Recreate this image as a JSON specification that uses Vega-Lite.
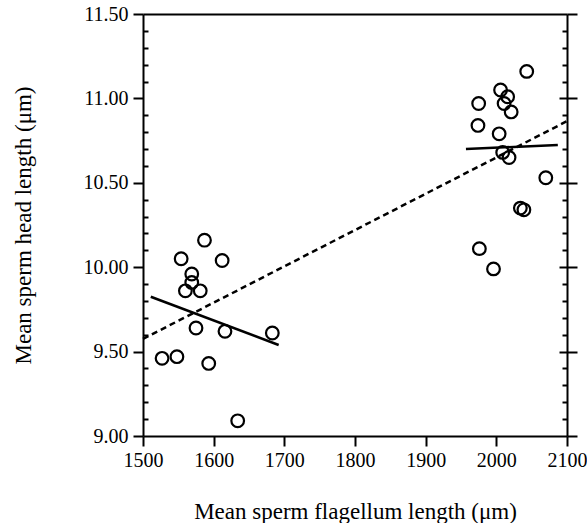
{
  "$schema": "https://vega.github.io/schema/vega-lite/v6.json",
  "width": 424,
  "height": 422,
  "autosize": {"type": "none"},
  "padding": {"left": 143, "top": 14, "right": 20, "bottom": 87},
  "background": "white",
  "config": {
    "view": {"stroke": null},
    "font": "Liberation Serif",
    "axis": {
      "domainColor": "black", "tickColor": "black", "labelColor": "black", "titleColor": "black",
      "domainWidth": 2, "tickWidth": 2, "labelFont": "Liberation Serif", "titleFont": "Liberation Serif",
      "labelFontSize": 20, "titleFontSize": 23, "titleFontWeight": "normal", "grid": false, "labelFlush": false
    }
  },
  "datasets": {
    "points": [
      {"flagellum": 1587, "head": 10.16},
      {"flagellum": 1554, "head": 10.05},
      {"flagellum": 1612, "head": 10.04},
      {"flagellum": 1569, "head": 9.96},
      {"flagellum": 1569, "head": 9.91},
      {"flagellum": 1560, "head": 9.86},
      {"flagellum": 1581, "head": 9.86},
      {"flagellum": 1575, "head": 9.64},
      {"flagellum": 1616, "head": 9.62},
      {"flagellum": 1683, "head": 9.61},
      {"flagellum": 1527, "head": 9.46},
      {"flagellum": 1548, "head": 9.47},
      {"flagellum": 1593, "head": 9.43},
      {"flagellum": 1634, "head": 9.09},
      {"flagellum": 2043, "head": 11.16},
      {"flagellum": 2006, "head": 11.05},
      {"flagellum": 2016, "head": 11.01},
      {"flagellum": 2011, "head": 10.97},
      {"flagellum": 1975, "head": 10.97},
      {"flagellum": 2021, "head": 10.92},
      {"flagellum": 1974, "head": 10.84},
      {"flagellum": 2004, "head": 10.79},
      {"flagellum": 2009, "head": 10.68},
      {"flagellum": 2018, "head": 10.65},
      {"flagellum": 2070, "head": 10.53},
      {"flagellum": 2034, "head": 10.35},
      {"flagellum": 2039, "head": 10.34},
      {"flagellum": 1976, "head": 10.11},
      {"flagellum": 1996, "head": 9.99}
    ],
    "fits": [
      {"group": "short", "flagellum": 1511, "head": 9.825},
      {"group": "short", "flagellum": 1692, "head": 9.539},
      {"group": "long", "flagellum": 1957, "head": 10.70},
      {"group": "long", "flagellum": 2087, "head": 10.724}
    ],
    "overall": [
      {"flagellum": 1500, "head": 9.575},
      {"flagellum": 2100, "head": 10.865}
    ]
  },
  "resolve": {"axis": {"x": "independent", "y": "independent"}},
  "layer": [
    {
      "data": {"name": "overall"},
      "mark": {"type": "line", "color": "black", "strokeWidth": 2.5, "strokeDash": [6, 4]},
      "encoding": {
        "x": {"field": "flagellum", "type": "quantitative",
          "scale": {"domain": [1500, 2100], "nice": false, "zero": false},
          "axis": {"orient": "top", "title": null, "labels": false, "ticks": false, "domain": true}},
        "y": {"field": "head", "type": "quantitative",
          "scale": {"domain": [9, 11.5], "nice": false, "zero": false},
          "axis": {"orient": "right", "title": null, "labels": false, "domain": true, "tickSize": -5,
            "values": [9.1,9.2,9.3,9.4,9.6,9.7,9.8,9.9,10.1,10.2,10.3,10.4,10.6,10.7,10.8,10.9,11.1,11.2,11.3,11.4]}}
      }
    },
    {
      "data": {"name": "overall"},
      "mark": {"type": "line", "opacity": 0},
      "encoding": {
        "x": {"field": "flagellum", "type": "quantitative", "axis": null},
        "y": {"field": "head", "type": "quantitative",
          "axis": {"orient": "right", "title": null, "labels": false, "domain": false, "tickSize": -8,
            "values": [9.5, 10, 10.5, 11]}}
      }
    },
    {
      "data": {"name": "overall"},
      "mark": {"type": "line", "opacity": 0},
      "encoding": {
        "x": {"field": "flagellum", "type": "quantitative", "axis": null},
        "y": {"field": "head", "type": "quantitative",
          "axis": {"orient": "right", "title": null, "labels": false, "domain": false, "tickSize": 10,
            "values": [9, 9.5, 10, 10.5, 11, 11.5]}}
      }
    },
    {
      "data": {"name": "fits"},
      "mark": {"type": "line", "color": "black", "strokeWidth": 2.5},
      "encoding": {
        "x": {"field": "flagellum", "type": "quantitative", "axis": null},
        "y": {"field": "head", "type": "quantitative",
          "axis": {"orient": "left", "title": null, "labels": false, "domain": false, "tickSize": -5,
            "values": [9.1,9.2,9.3,9.4,9.6,9.7,9.8,9.9,10.1,10.2,10.3,10.4,10.6,10.7,10.8,10.9,11.1,11.2,11.3,11.4]}},
        "detail": {"field": "group"}
      }
    },
    {
      "data": {"name": "points"},
      "mark": {"type": "point", "shape": "circle", "filled": false, "stroke": "black", "strokeWidth": 2.2, "size": 160, "opacity": 1},
      "encoding": {
        "x": {"field": "flagellum", "type": "quantitative",
          "axis": {"orient": "bottom", "title": "Mean sperm flagellum length (μm)", "format": "d", "ticks": true,
            "values": [1500,1600,1700,1800,1900,2000,2100], "tickSize": 10, "labelPadding": 4, "titlePadding": 30}},
        "y": {"field": "head", "type": "quantitative",
          "axis": {"orient": "left", "title": "Mean sperm head length (μm)", "format": ".2f", "ticks": true,
            "values": [9, 9.5, 10, 10.5, 11, 11.5], "tickSize": 10, "labelPadding": 5, "titlePadding": 48}}
      }
    }
  ]
}
